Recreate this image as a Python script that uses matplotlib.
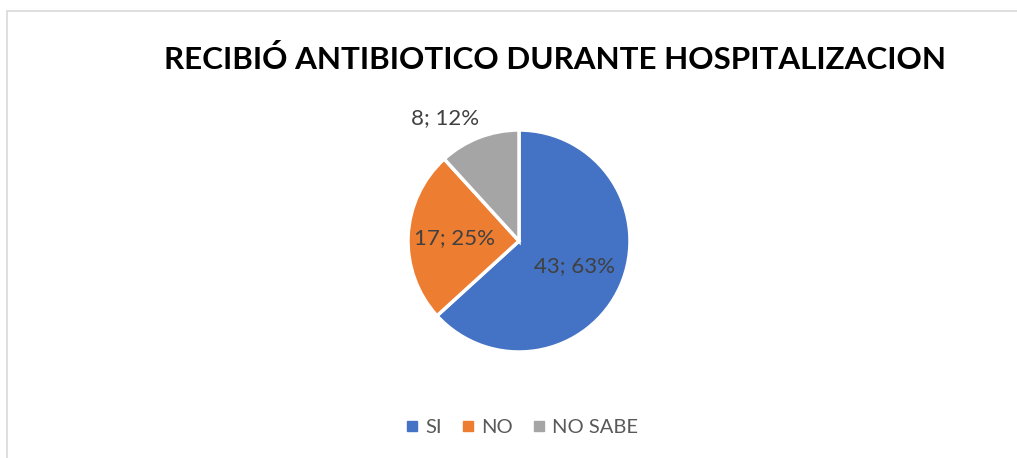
import matplotlib
matplotlib.use('Agg')
import matplotlib.pyplot as plt
from matplotlib.patches import Rectangle
from matplotlib.lines import Line2D
import numpy as np

categories = ['SI', 'NO', 'NO SABE']
counts = [43, 17, 8]
colors = ['#4472C4', '#ED7D31', '#A5A5A5']
title = 'RECIBIÓ ANTIBIOTICO DURANTE HOSPITALIZACION'

plt.rcParams['font.family'] = ['Lato', 'DejaVu Sans']

W, H = 1017, 458
fig = plt.figure(figsize=(W / 100, H / 100), dpi=100)

# light grey chart border (right and bottom edges fall outside the picture)
fig.add_artist(Rectangle((6.5 / W, -0.1), 1.2, (H - 10.5) / H + 0.1,
                         transform=fig.transFigure, fill=False,
                         edgecolor='#D9D9D9', linewidth=1.2))

cx, cy, r = 519, 241, 111
ax = fig.add_axes([(cx - r) / W, (H - cy - r) / H, 2 * r / W, 2 * r / H])

total = sum(counts)
labels = ['%d; %d%%' % (c, round(100 * c / total)) for c in counts]

wedges, _ = ax.pie(counts, colors=colors, startangle=90, counterclock=False,
                   wedgeprops=dict(edgecolor='white', linewidth=2.5))
ax.set_xlim(-1, 1)
ax.set_ylim(-1, 1)
ax.set_aspect('equal')

# data labels
dists = [0.55, 0.58, None]
for w, lab, d in zip(wedges, labels, dists):
    mid = np.deg2rad((w.theta1 + w.theta2) / 2)
    if d is None:
        x, y = -0.67, 1.11
    else:
        x, y = d * np.cos(mid), d * np.sin(mid)
    ax.text(x, y, lab, ha='center', va='center', fontsize=16,
            color='#404040', clip_on=False)

fig.text(555 / W, 1 - 59.5 / H, title, ha='center', va='center',
         fontsize=22.6, fontweight='bold', color='black')

handles = [Line2D([], [], marker='s', linestyle='none', markersize=6.8,
                  markerfacecolor=c, markeredgecolor=c) for c in colors]
fig.legend(handles, categories, loc='center', bbox_to_anchor=(522 / W, 1 - 427 / H),
           ncol=3, frameon=False, fontsize=14.5, handlelength=0.6,
           handletextpad=0.35, columnspacing=1.0, labelcolor='#595959')

fig.savefig('out.png', dpi=100)
